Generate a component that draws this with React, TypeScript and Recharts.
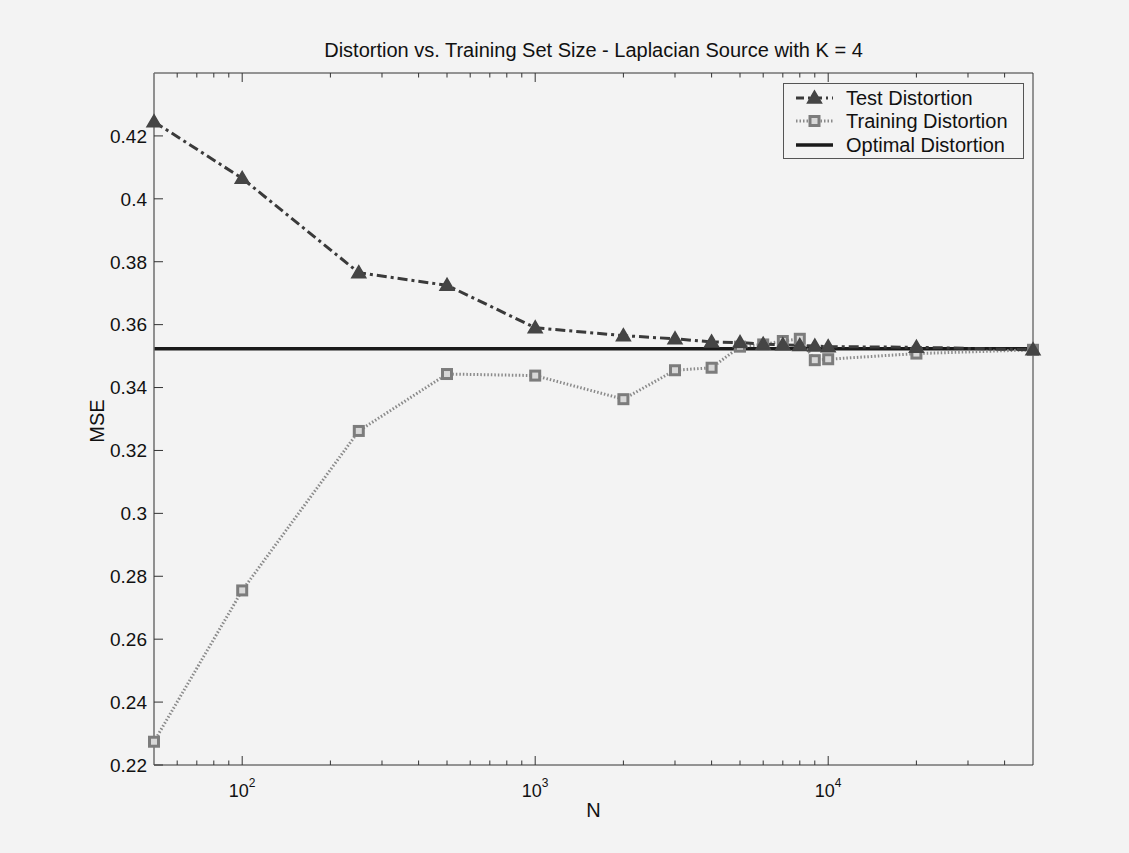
import { Legend, Line, LineChart, XAxis, YAxis } from "recharts";

const N_VALUES = [50, 100, 250, 500, 1000, 2000, 3000, 4000, 5000, 6000, 7000, 8000, 9000, 10000, 20000, 50000];
const TEST_DISTORTION = [
  0.4245, 0.4065, 0.3765, 0.3725, 0.359, 0.3565, 0.3555, 0.3545, 0.3543, 0.3538, 0.3536, 0.3534, 0.3532, 0.353,
  0.3528, 0.352,
];
const TRAINING_DISTORTION = [
  0.2274, 0.2755, 0.3262, 0.3443, 0.3438, 0.3363, 0.3455, 0.3463, 0.353, 0.3537, 0.3548, 0.3555, 0.3487, 0.349,
  0.3508, 0.352,
];
const OPTIMAL_DISTORTION = 0.3523;

const X_MAJOR_TICKS = [100, 1000, 10000];
const X_MINOR_TICKS = [
  60, 70, 80, 90, 200, 300, 400, 500, 600, 700, 800, 900, 2000, 3000, 4000, 5000, 6000, 7000, 8000, 9000, 20000,
  30000, 40000,
];
const Y_TICKS = [0.22, 0.24, 0.26, 0.28, 0.3, 0.32, 0.34, 0.36, 0.38, 0.4, 0.42];

const SERIES_NAMES = {
  test: "Test Distortion",
  train: "Training Distortion",
  optimal: "Optimal Distortion",
};

const data = N_VALUES.map((n, i) => ({
  n,
  test: TEST_DISTORTION[i],
  train: TRAINING_DISTORTION[i],
  optimal: OPTIMAL_DISTORTION,
}));

const X_TICKS = [...X_MINOR_TICKS, ...X_MAJOR_TICKS].sort((a, b) => a - b);

const FONT = '"Liberation Sans", Arial, Helvetica, sans-serif';
const BG = "#f3f3f3";
const AXIS = "#333";
const TEXT = "#111";

const TEST_COLOR = "#3a3a3a";
const TRAIN_COLOR = "#8a8a8a";
const TEST_DASH = "10 4 3 4";
const TRAIN_DASH = "1.5 2";

function Triangle({ cx, cy }: { cx: number; cy: number }) {
  return (
    <polygon
      points={`${cx},${cy - 7} ${cx - 7},${cy + 5} ${cx + 7},${cy + 5}`}
      fill="#454545"
      stroke="#454545"
      strokeWidth={1.5}
    />
  );
}

function Square({ cx, cy }: { cx: number; cy: number }) {
  return (
    <rect x={cx - 4.5} y={cy - 4.5} width={9} height={9} fill="#d8d8d8" stroke="#7c7c7c" strokeWidth={3} />
  );
}

function BottomTick(props: any) {
  const { x, y, payload } = props;
  const value = payload.value as number;
  const major = X_MAJOR_TICKS.includes(value);
  return (
    <g>
      <line x1={x} x2={x} y1={y} y2={y - (major ? 9 : 4.5)} stroke={AXIS} strokeWidth={1} />
      {major && (
        <text x={x} y={y + 32} textAnchor="middle" fontFamily={FONT} fontSize={18} fill={TEXT}>
          10
          <tspan dy={-10} fontSize={12}>
            {Math.round(Math.log10(value))}
          </tspan>
        </text>
      )}
    </g>
  );
}

function TopTick(props: any) {
  const { x, y, payload } = props;
  const major = X_MAJOR_TICKS.includes(payload.value);
  return <line x1={x} x2={x} y1={y} y2={y + (major ? 9 : 4.5)} stroke={AXIS} strokeWidth={1} />;
}

function LeftTick(props: any) {
  const { x, y, payload } = props;
  const label = String(Number((payload.value as number).toFixed(2)));
  return (
    <g>
      <line x1={x} x2={x + 9} y1={y} y2={y} stroke={AXIS} strokeWidth={1} />
      <text x={x - 7} y={y} dy="0.36em" textAnchor="end" fontFamily={FONT} fontSize={19} fill={TEXT}>
        {label}
      </text>
    </g>
  );
}

function RightTick(props: any) {
  const { x, y } = props;
  return <line x1={x} x2={x - 9} y1={y} y2={y} stroke={AXIS} strokeWidth={1} />;
}

function LegendBox(props: any) {
  const payload = (props.payload || []) as any[];
  const order = ["test", "train", "optimal"];
  const items = order
    .map((key) => payload.find((p) => p.dataKey === key))
    .filter(Boolean);
  return (
    <div
      style={{
        width: 241,
        height: 76,
        boxSizing: "border-box",
        border: "1px solid #555",
        background: BG,
        paddingTop: 2,
      }}
    >
      {items.map((item) => (
        <div key={item.dataKey} style={{ display: "flex", alignItems: "center", height: 23.5 }}>
          <svg width={62} height={20} style={{ flex: "none" }}>
            {item.dataKey === "test" && (
              <>
                <line x1={12} x2={49} y1={10} y2={10} stroke={TEST_COLOR} strokeWidth={3} strokeDasharray="8 4 2 4" />
                <Triangle cx={30.5} cy={10} />
              </>
            )}
            {item.dataKey === "train" && (
              <>
                <line x1={12} x2={49} y1={10} y2={10} stroke={TRAIN_COLOR} strokeWidth={3} strokeDasharray={TRAIN_DASH} />
                <Square cx={30.5} cy={10} />
              </>
            )}
            {item.dataKey === "optimal" && <line x1={12} x2={49} y1={10} y2={10} stroke="#1a1a1a" strokeWidth={3.5} />}
          </svg>
          <span style={{ fontFamily: FONT, fontSize: 20, color: TEXT, lineHeight: "20px" }}>{item.value}</span>
        </div>
      ))}
    </div>
  );
}

export default function App() {
  return (
    <div style={{ position: "absolute", left: 0, top: 0, width: 1129, height: 853, background: BG }}>
      <LineChart width={1129} height={853} data={data} margin={{ top: 72, right: 95, bottom: 48, left: 94 }}>
        <XAxis
          dataKey="n"
          type="number"
          scale="log"
          domain={[50, 50000]}
          ticks={X_TICKS}
          interval={0}
          height={40}
          tickSize={0}
          tickMargin={0}
          tickLine={false}
          axisLine={{ stroke: AXIS, strokeWidth: 1 }}
          tick={<BottomTick />}
        />
        <XAxis
          xAxisId="top"
          orientation="top"
          dataKey="n"
          type="number"
          scale="log"
          domain={[50, 50000]}
          ticks={X_TICKS}
          interval={0}
          height={1}
          tickSize={0}
          tickMargin={0}
          tickLine={false}
          axisLine={{ stroke: AXIS, strokeWidth: 1 }}
          tick={<TopTick />}
        />
        <YAxis
          type="number"
          domain={[0.22, 0.44]}
          ticks={Y_TICKS}
          interval={0}
          width={60}
          tickSize={0}
          tickMargin={0}
          tickLine={false}
          axisLine={{ stroke: "#6e6e6e", strokeWidth: 1.5 }}
          tick={<LeftTick />}
        />
        <YAxis
          yAxisId="right"
          orientation="right"
          type="number"
          domain={[0.22, 0.44]}
          ticks={Y_TICKS}
          interval={0}
          width={1}
          tickSize={0}
          tickMargin={0}
          tickLine={false}
          axisLine={{ stroke: AXIS, strokeWidth: 1 }}
          tick={<RightTick />}
        />
        <Legend
          layout="horizontal"
          verticalAlign="middle"
          align="center"
          wrapperStyle={{ position: "absolute", left: 783, top: 83, width: 241, height: 76 }}
          content={<LegendBox />}
        />
        <Line
          dataKey="optimal"
          name={SERIES_NAMES.optimal}
          stroke="#1a1a1a"
          strokeWidth={3.5}
          dot={false}
          activeDot={false}
          isAnimationActive={false}
        />
        <Line
          dataKey="train"
          name={SERIES_NAMES.train}
          stroke={TRAIN_COLOR}
          strokeWidth={3}
          strokeDasharray={TRAIN_DASH}
          dot={(p: any) => <Square key={`tr-${p.index}`} cx={p.cx} cy={p.cy} />}
          activeDot={false}
          isAnimationActive={false}
        />
        <Line
          dataKey="test"
          name={SERIES_NAMES.test}
          stroke={TEST_COLOR}
          strokeWidth={3}
          strokeDasharray={TEST_DASH}
          dot={(p: any) => <Triangle key={`te-${p.index}`} cx={p.cx} cy={p.cy} />}
          activeDot={false}
          isAnimationActive={false}
        />
      </LineChart>
      <svg
        width={1129}
        height={853}
        style={{ position: "absolute", left: 0, top: 0, pointerEvents: "none" }}
      >
        <text x={593.5} y={57} textAnchor="middle" fontFamily={FONT} fontSize={20} fill={TEXT}>
          Distortion vs. Training Set Size - Laplacian Source with K = 4
        </text>
        <text x={593.5} y={817} textAnchor="middle" fontFamily={FONT} fontSize={20} fill={TEXT}>
          N
        </text>
        <text
          x={0}
          y={0}
          transform="translate(104 421) rotate(-90)"
          textAnchor="middle"
          fontFamily={FONT}
          fontSize={20}
          fill={TEXT}
        >
          MSE
        </text>
      </svg>
    </div>
  );
}
